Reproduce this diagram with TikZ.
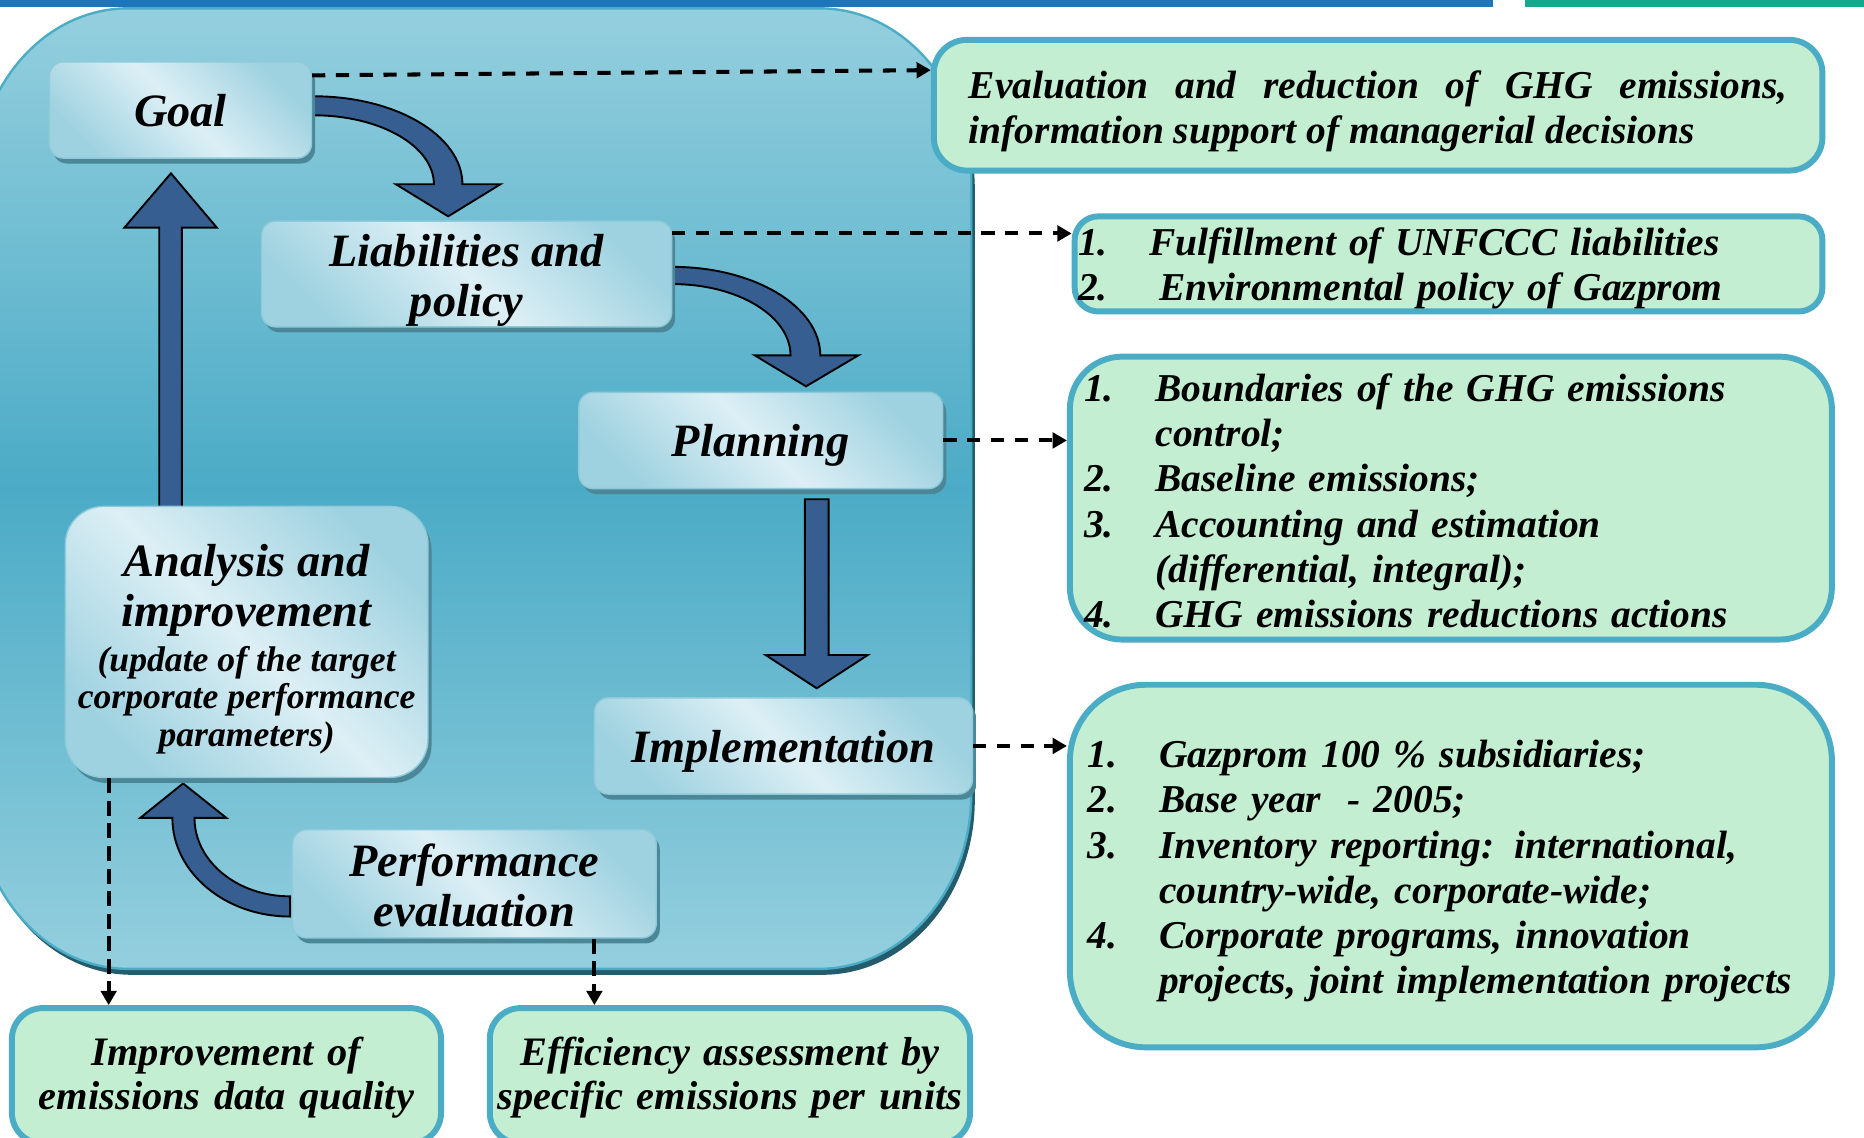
\documentclass[tikz,border=0pt]{standalone}
\usepackage{fontspec}
\setmainfont{Liberation Serif}
\usetikzlibrary{arrows.meta,shadows,calc}

\definecolor{barblue}{HTML}{1D75BC}
\definecolor{barteal}{HTML}{16A78F}
\definecolor{paneltop}{HTML}{94CFDE}
\definecolor{panelmid}{HTML}{4BABC6}
\definecolor{panelrim}{HTML}{4BACC6}
\definecolor{panelshade}{HTML}{245C6C}
\definecolor{stagelight}{HTML}{DDEFF5}
\definecolor{stageblue}{HTML}{9FD2E0}
\definecolor{stageedge}{HTML}{8FCADA}
\definecolor{stageshadow}{HTML}{4B8797}
\definecolor{flowblue}{HTML}{365E90}
\definecolor{notefill}{HTML}{C3EED2}
\definecolor{noteedge}{HTML}{4BACC6}

\newcommand\gfStage{\fontsize{19.5}{21}\selectfont\bfseries\itshape}
\newcommand\gfSub{\fontsize{15}{16}\selectfont\bfseries\itshape}
\newcommand\gfNote{\fontsize{16.6}{19}\selectfont\bfseries\itshape}
\newcommand\gfLow{\fontsize{17}{18.5}\selectfont\bfseries\itshape}
\newcommand\gfNum[1]{\makebox[30pt][l]{#1}}
% invisible strut that sets the height of a first line
\newcommand\gfTop[1]{\rule{0pt}{#1}}

\begin{document}
\begin{tikzpicture}[x=0.5pt,y=-0.5pt,
  stage/.style={draw=stageedge, line width=0.6pt, rounded corners=6pt,
    shading=axis, top color=stageblue, bottom color=stageblue, middle color=stagelight,
    shading angle=-45,
    drop shadow={shadow xshift=1.5pt, shadow yshift=-2.3pt, fill=stageshadow, opacity=1},
    align=center, font=\gfStage, inner sep=0pt},
  note/.style={draw=noteedge, line width=2.5pt, fill=notefill, font=\gfNote, inner ysep=0pt},
  flow/.style={fill=flowblue, draw=black, line width=0.8pt, line join=miter},
  link/.style={draw=black, line width=1.7pt, dash pattern=on 5.5pt off 4.5pt,
    -{Triangle[length=6pt,width=6.5pt]}},
  vlink/.style={link, dash pattern=on 6.3pt off 3.2pt}]

\useasboundingbox (0,0) rectangle (1568,957);
\clip (0,0) rectangle (1568,957);
\fill[white] (0,0) rectangle (1568,957);

% header strips
\fill[barblue] (0,0) rectangle (1256,6);
\fill[barteal] (1283,0) rectangle (1568,6);

% rounded panel behind the cycle, with its dark rim
\fill[panelshade, shift={(3,5)}] (-20,154) .. controls (-20,72.8) and (37.3,7) .. (108,7)
  -- (689,7) .. controls (759.7,7) and (817,72.8) .. (817,154)
  -- (817,668) .. controls (817,749.2) and (759.7,815) .. (689,815)
  -- (108,815) .. controls (37.3,815) and (-20,749.2) .. (-20,668) -- cycle;
\path[draw=panelrim, line width=1pt, shading=axis, top color=paneltop, bottom color=paneltop,
  middle color=panelmid]
  (-20,154) .. controls (-20,72.8) and (37.3,7) .. (108,7)
  -- (689,7) .. controls (759.7,7) and (817,72.8) .. (817,154)
  -- (817,668) .. controls (817,749.2) and (759.7,815) .. (689,815)
  -- (108,815) .. controls (37.3,815) and (-20,749.2) .. (-20,668) -- cycle;

% block arrows of the cycle
\path[flow] (264,81) .. controls (333,81) and (389,114.1) .. (389,155)
  -- (421,155) -- (377,182) -- (333,155) -- (365,155)
  .. controls (365,123) and (319.8,97) .. (264,97) -- cycle;
\path[flow] (566,224.5) .. controls (634.5,224.5) and (690,257.9) .. (690,299)
  -- (722,299) -- (678,325) -- (635,299) -- (665,299)
  .. controls (665,265.9) and (620.7,239) .. (566,239) -- cycle;
\path[flow] (677,420) -- (697,420) -- (697,551) -- (730,551) -- (687,579)
  -- (644,551) -- (677,551) -- cycle;
\path[flow] (244,771) .. controls (189.3,771) and (145,733.8) .. (145,688)
  -- (118,688) -- (154,659) -- (190.4,688) -- (163.6,688)
  .. controls (163.6,724.5) and (199.6,754) .. (244,754) -- cycle;
\path[flow] (134,427) -- (153,427) -- (153,191.5) -- (182.4,191.5) -- (143.8,145.8)
  -- (104.6,191.5) -- (134,191.5) -- cycle;

% stages of the cycle
\node[stage, text depth=0pt, minimum width=110.25pt, minimum height=40.5pt] (goal)
  at (151.75,92.5) {Goal};
\node[stage, minimum width=172.5pt, minimum height=44.5pt] (liab) at (392.5,230.5)
  {\gfTop{18.8pt}Liabilities and\\policy};
\node[stage, text depth=0pt, minimum width=153pt, minimum height=40.5pt] (plan)
  at (640,370.5) {Planning};
\node[stage, text depth=0pt, minimum width=159pt, minimum height=40.5pt] (impl)
  at (659,627.5) {Implementation};
\node[stage, minimum width=153pt, minimum height=45.5pt] (perf) at (399,743.5)
  {\gfTop{15.3pt}Performance\\evaluation};
\node[stage, rounded corners=16pt, minimum width=152.5pt, minimum height=114pt] (analysis)
  at (207.5,540)
  {\begin{tabular}{@{}c@{}}
   \gfTop{22.7pt}Analysis and\\
   improvement\\[-2pt]
   \gfSub (update of the target\\[-5.25pt]
   \gfSub corporate performance\\[-5.25pt]
   \gfSub parameters)
   \end{tabular}};

% explanatory notes
\node[note, rounded corners=14pt, minimum height=55pt, text width=344.25pt, inner xsep=14.75pt,
  align=justify] (eval) at (1159.25,88.5)
  {\gfTop{16.6pt}Evaluation and reduction of GHG emissions,\linebreak
   information support of managerial decisions};
\node[note, rounded corners=10pt, minimum height=40pt, text width=311.5pt, inner xsep=1.5pt,
  align=left] (unf) at (1218.5,222)
  {\gfTop{15.4pt}\gfNum{1.}Fulfillment of UNFCCC liabilities\\
   \makebox[34pt][l]{2.}Environmental policy of Gazprom};
\node[note, rounded corners=22pt, minimum height=119pt, text width=308.5pt, inner xsep=6pt,
  align=left] (planlist) at (1220.5,419)
  {\gfTop{14pt}\gfNum{1.}Boundaries of the GHG emissions\\
   \hspace*{30pt}control;\\
   \gfNum{2.}Baseline emissions;\\
   \gfNum{3.}Accounting and estimation\\
   \hspace*{30pt}(differential, integral);\\
   \gfNum{4.}GHG emissions reductions actions};
\node[note, rounded corners=32pt, minimum height=152.5pt, text width=305.5pt, inner xsep=7.5pt,
  align=left] (impllist) at (1220.5,728.5)
  {\gfTop{15.8pt}\gfNum{1.}Gazprom 100 \% subsidiaries;\\
   \gfNum{2.}Base year~ - 2005;\\
   \gfNum{3.}Inventory reporting: international,\\
   \hspace*{30pt}country-wide, corporate-wide;\\
   \gfNum{4.}Corporate programs, innovation\\
   \hspace*{30pt}projects, joint implementation projects};
\node[note, font=\gfLow, rounded corners=13pt, minimum height=57pt, text width=174.5pt,
  inner xsep=3pt, align=center] (improve) at (190.5,905)
  {\gfTop{13.6pt}Improvement of\\emissions data quality};
\node[note, font=\gfLow, rounded corners=13pt, minimum height=57pt, text width=196pt,
  inner xsep=3pt, align=center] (effic) at (614,905)
  {\gfTop{13.6pt}Efficiency assessment by\\specific emissions per units};

% dashed links to the notes
\coordinate (gfrom) at ([yshift=-6pt]goal.north east);
\draw[link] (gfrom) -- ([yshift=14.75pt]eval.west);
\coordinate (lfrom) at ([yshift=-5.5pt]liab.north east);
\draw[link] (lfrom) -- (lfrom -| unf.west);
\draw[link] (plan.east) -- (plan.east -| planlist.west);
\draw[link] (impl.east) -- (impl.east -| impllist.west);
\coordinate (afrom) at ([xshift=18.5pt]analysis.south west);
\draw[vlink] (afrom) -- (afrom |- improve.north);
\coordinate (pfrom) at ([xshift=50.5pt]perf.south);
\draw[vlink] (pfrom) -- (pfrom |- effic.north);
\end{tikzpicture}
\end{document}
